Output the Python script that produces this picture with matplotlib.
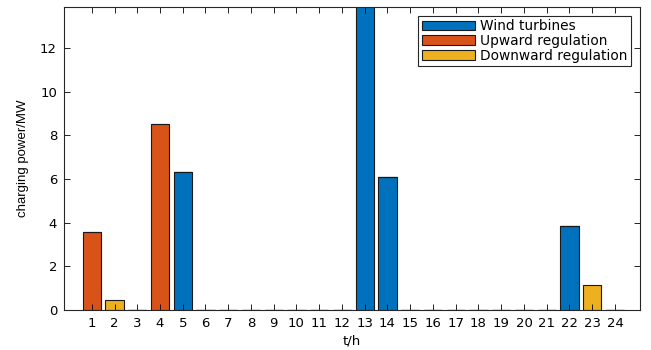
import matplotlib
matplotlib.use("Agg")
import matplotlib.pyplot as plt
import numpy as np

plt.rcParams['font.family'] = ['DejaVu Sans']

hours = list(range(1, 25))
wind = [0, 0, 0, 0, 6.32, 0, 0, 0, 0, 0, 0, 0, 14.5, 6.10, 0, 0, 0, 0, 0, 0, 0, 3.85, 0, 0]
upward = [3.59, 0, 0, 8.53, 0, 0, 0, 0, 0, 0, 0, 0, 0, 0, 0, 0, 0, 0, 0, 0, 0, 0, 0, 0]
downward = [0, 0.48, 0, 0, 0, 0, 0, 0, 0, 0, 0, 0, 0, 0, 0, 0, 0, 0, 0, 0, 0, 0, 1.15, 0]
yticks = [0, 2, 4, 6, 8, 10, 12]

fig = plt.figure(figsize=(6.51, 3.5), dpi=100)
ax = fig.add_axes([64/651, 1 - 310/350, (640-64)/651, (310-7)/350])

x = np.array(hours)
w = np.array(wind)
u = np.array(upward)
d = np.array(downward)
kw = dict(width=0.8, edgecolor='#1a1a1a', linewidth=0.8)
ax.bar(x, w, color='#0072BD', label='Wind turbines', **kw)
ax.bar(x, u, bottom=w, color='#D95319', label='Upward regulation', **kw)
ax.bar(x, d, bottom=w + u, color='#EDB120', label='Downward regulation', **kw)

ax.set_xlim(-0.22, 25.1)
ax.set_ylim(0, 13.88)
ax.set_xticks(hours)
ax.set_yticks(yticks)
ax.tick_params(direction='in', top=True, right=True, labelsize=9.5, length=4, width=0.6, pad=5)
for s in ax.spines.values():
    s.set_linewidth(0.8)
    s.set_color('#262626')

ax.set_xlabel('t/h', fontsize=9.5, labelpad=3)
ax.set_ylabel('charging power/MW', fontsize=9.5,
              family=['Liberation Sans', 'DejaVu Sans'], labelpad=8)

leg = ax.legend(loc='upper right', fontsize=9.9, fancybox=False, framealpha=1,
                edgecolor='#262626', handlelength=3.9, handleheight=0.72,
                borderaxespad=0.65, labelspacing=0.05, handletextpad=0.35,
                borderpad=0.25)
leg.get_frame().set_linewidth(0.8)

fig.savefig('out.png', dpi=100)
